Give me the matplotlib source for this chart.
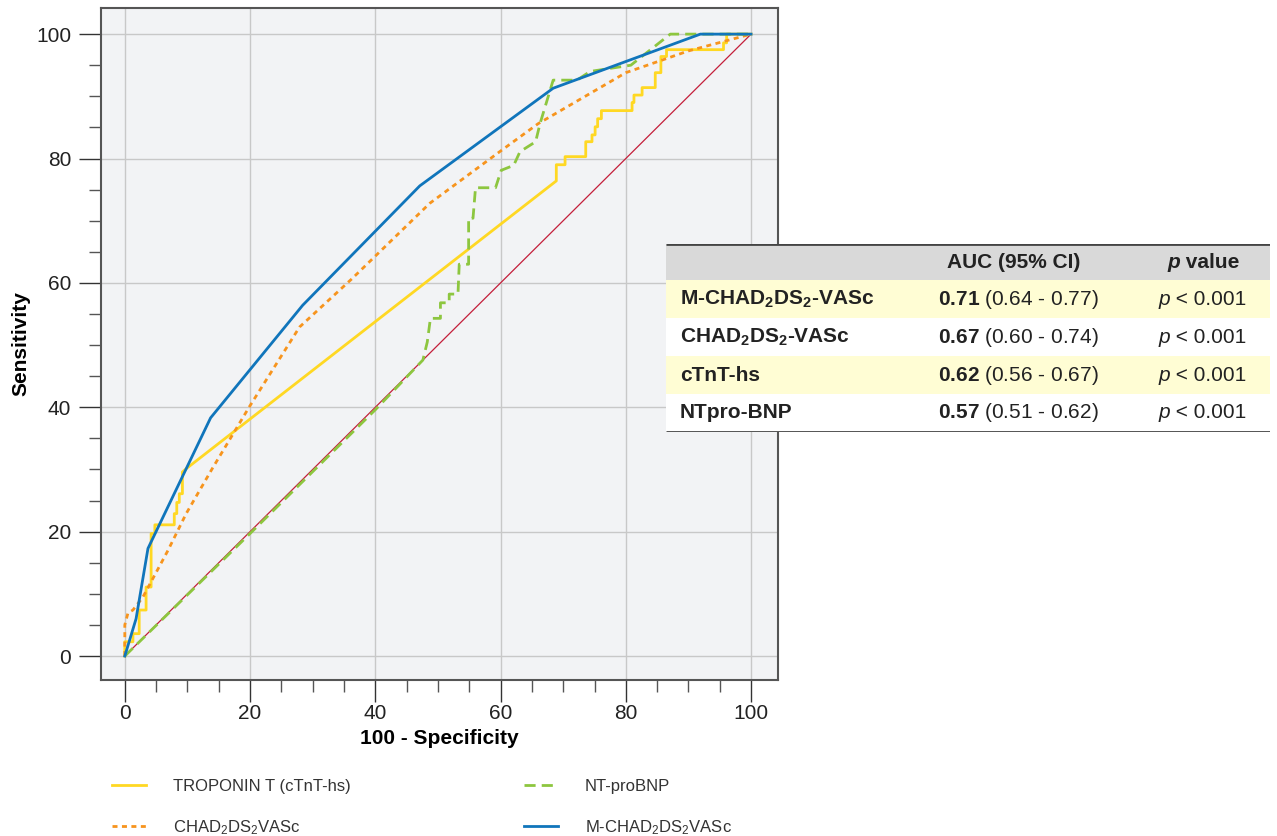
import matplotlib
matplotlib.use("Agg")
import matplotlib.pyplot as plt
from matplotlib.patches import Rectangle
from matplotlib.ticker import MultipleLocator

plt.rcParams['font.family'] = ['Liberation Sans', 'DejaVu Sans']
plt.rcParams['mathtext.fontset'] = 'custom'
plt.rcParams['mathtext.rm'] = 'Liberation Sans'
plt.rcParams['mathtext.bf'] = 'Liberation Sans:bold'
plt.rcParams['mathtext.it'] = 'Liberation Sans:italic'

# ROC curves (100 - specificity, sensitivity)
trop_x = [0, 0, 1.3, 1.3, 2.3, 2.3, 3.4, 3.4, 4.2, 4.2, 4.8, 4.8, 7.9, 7.9, 8.3, 8.3, 8.7, 8.7,
          9.2, 9.2, 9.9, 68.9, 68.9, 70.3, 70.3, 73.6, 73.6, 74.6, 74.6, 75.1, 75.1, 75.5, 75.5,
          76.1, 76.1, 81.0, 81.0, 81.3, 81.3, 82.6, 82.6, 84.7, 84.7, 85.6, 85.6, 86.5, 86.5,
          95.6, 95.6, 96.1, 96.1, 100]
trop_y = [0, 2.3, 2.3, 3.6, 3.6, 7.4, 7.4, 11.1, 11.1, 19.7, 19.7, 21.1, 21.1, 22.9, 22.9, 24.7,
          24.7, 26.1, 26.1, 29.6, 30.2, 76.4, 79.0, 79.0, 80.3, 80.3, 82.7, 82.7, 83.8, 83.8, 85.1,
          85.1, 86.4, 86.4, 87.7, 87.7, 89.0, 89.0, 90.2, 90.2, 91.4, 91.4, 93.8, 93.8, 96.4, 96.4,
          97.5, 97.5, 98.6, 98.6, 100, 100]

bnp_x = [0, 20, 40, 47.6, 48.3, 48.8, 50.4, 50.4, 51.8, 51.8, 53.2, 53.4, 54.9, 54.9, 55.6, 56.0,
         59.2, 60.1, 62.1, 63.1, 65.6, 66.3, 68.4, 72.2, 74.3, 80.8, 87.1, 100]
bnp_y = [0, 19.7, 39.6, 47.6, 50.5, 54.3, 54.3, 56.8, 56.8, 58.2, 58.2, 63.0, 63.0, 70.4, 70.4, 75.3,
         75.3, 78.1, 78.9, 81.1, 82.7, 85.6, 92.6, 92.6, 94.0, 95.0, 100, 100]

chad_x = [0, 0, 0.5, 1.3, 2.9, 6.9, 9.8, 14.0, 19.9, 27.9, 36.2, 48.7, 60.0, 66.0, 80.0, 90.0, 100]
chad_y = [0, 5.0, 6.9, 7.4, 9.5, 17.0, 22.9, 30.2, 40.1, 52.9, 60.6, 72.8, 81.2, 85.6, 93.8, 97.3, 100]

mchad_x = [0, 1.8, 3.7, 13.7, 28.4, 47.1, 68.4, 91.9, 100]
mchad_y = [0, 6.0, 17.3, 38.3, 56.4, 75.6, 91.3, 100, 100]

# table
row_labels = [r'M-CHAD$_\mathbf{2}$DS$_\mathbf{2}$-VASc', r'CHAD$_\mathbf{2}$DS$_\mathbf{2}$-VASc',
              'cTnT-hs', 'NTpro-BNP']
auc = ['0.71', '0.67', '0.62', '0.57']
ci = ['(0.64 - 0.77)', '(0.60 - 0.74)', '(0.56 - 0.67)', '(0.51 - 0.62)']
pvals = ['< 0.001', '< 0.001', '< 0.001', '< 0.001']

fig = plt.figure(figsize=(12.77, 8.36), dpi=100)
ax = fig.add_axes([101 / 1277, 1 - 680 / 836, 677 / 1277, 672 / 836])
ax.set_facecolor('#F2F3F5')

ax.plot([0, 100], [0, 100], color='#C41E3A', lw=0.9, zorder=2)
l_trop, = ax.plot(trop_x, trop_y, color='#FFD823', lw=2, label='TROPONIN T (cTnT-hs)', zorder=3)
l_chad, = ax.plot(chad_x, chad_y, color='#F7941D', lw=2, dashes=(1.8, 1.6),
                  label=r'CHAD$_2$DS$_2$VASc', zorder=3)
l_bnp, = ax.plot(bnp_x, bnp_y, color='#8DC63F', lw=2, dashes=(4, 2.2), label='NT-proBNP', zorder=4)
l_m, = ax.plot(mchad_x, mchad_y, color='#1075BB', lw=2, label=r'M-CHAD$_2$DS$_2$VASc', zorder=5)

ax.set_xlim(-3.8, 104.3)
ax.set_ylim(-3.85, 104.2)
ax.xaxis.set_major_locator(MultipleLocator(20))
ax.yaxis.set_major_locator(MultipleLocator(20))
ax.xaxis.set_minor_locator(MultipleLocator(5))
ax.yaxis.set_minor_locator(MultipleLocator(5))
ax.grid(True, which='major', color='#C8C8C8', lw=1, zorder=0)
ax.set_axisbelow(True)
ax.tick_params(which='major', length=15.5, width=1, color='#333333', labelsize=15,
               labelcolor='#222222', pad=6)
ax.tick_params(axis='x', which='major', pad=2)
ax.tick_params(which='minor', length=8.5, width=1, color='#555555')
for s in ax.spines.values():
    s.set_color('#555555')
    s.set_linewidth(1.5)
ax.set_xlabel('100 - Specificity', fontsize=15, fontweight='bold', labelpad=4)
ax.set_ylabel('Sensitivity', fontsize=15, fontweight='bold', labelpad=4)

# AUC table drawn over the plot
tax = fig.add_axes([666 / 1277, 1 - 432 / 836, 604 / 1277, 188 / 836])
tax.set_xlim(0, 604)
tax.set_ylim(0, 188)
tax.axis('off')
tax.add_patch(Rectangle((0, 152), 604, 36, facecolor='#D9D9D9', edgecolor='none'))
for i in range(4):
    y0 = 152 - 38 * (i + 1)
    fc = '#FFFDD4' if i % 2 == 0 else 'white'
    tax.add_patch(Rectangle((0, y0), 604, 38, facecolor=fc, edgecolor='none'))
    yc = y0 + 19
    tax.text(14, yc, row_labels[i], fontsize=15, fontweight='bold', color='#222222',
             ha='left', va='center')
    tax.text(352, yc, r'$\mathbf{' + auc[i] + '}$ ' + ci[i], fontsize=15, color='#222222',
             ha='center', va='center')
    tax.text(504, yc, 'p', fontsize=15, fontstyle='italic', color='#222222', ha='right', va='center')
    tax.text(504, yc, ' ' + pvals[i], fontsize=15, color='#222222', ha='left', va='center')
tax.plot([0, 604], [188, 188], color='#444444', lw=2, solid_capstyle='butt')
tax.plot([0, 604], [0, 0], color='#444444', lw=2, solid_capstyle='butt')
tax.text(348, 170, 'AUC (95% CI)', fontsize=15, fontweight='bold', color='#222222',
         ha='center', va='center')
tax.text(514, 170, 'p', fontsize=15, fontweight='bold', fontstyle='italic', color='#222222',
         ha='right', va='center')
tax.text(514, 170, ' value', fontsize=15, fontweight='bold', color='#222222',
         ha='left', va='center')

leg = fig.legend(handles=[l_trop, l_chad, l_bnp, l_m], loc='upper left',
                 bbox_to_anchor=(112 / 1277, 1 - 779 / 836), ncol=2, frameon=False,
                 fontsize=12, handlelength=2.05, handletextpad=1.6, columnspacing=10.4,
                 labelspacing=1.45, borderpad=0, borderaxespad=0)
for t in leg.get_texts():
    t.set_color('#333333')

fig.savefig('out.png', dpi=100)
